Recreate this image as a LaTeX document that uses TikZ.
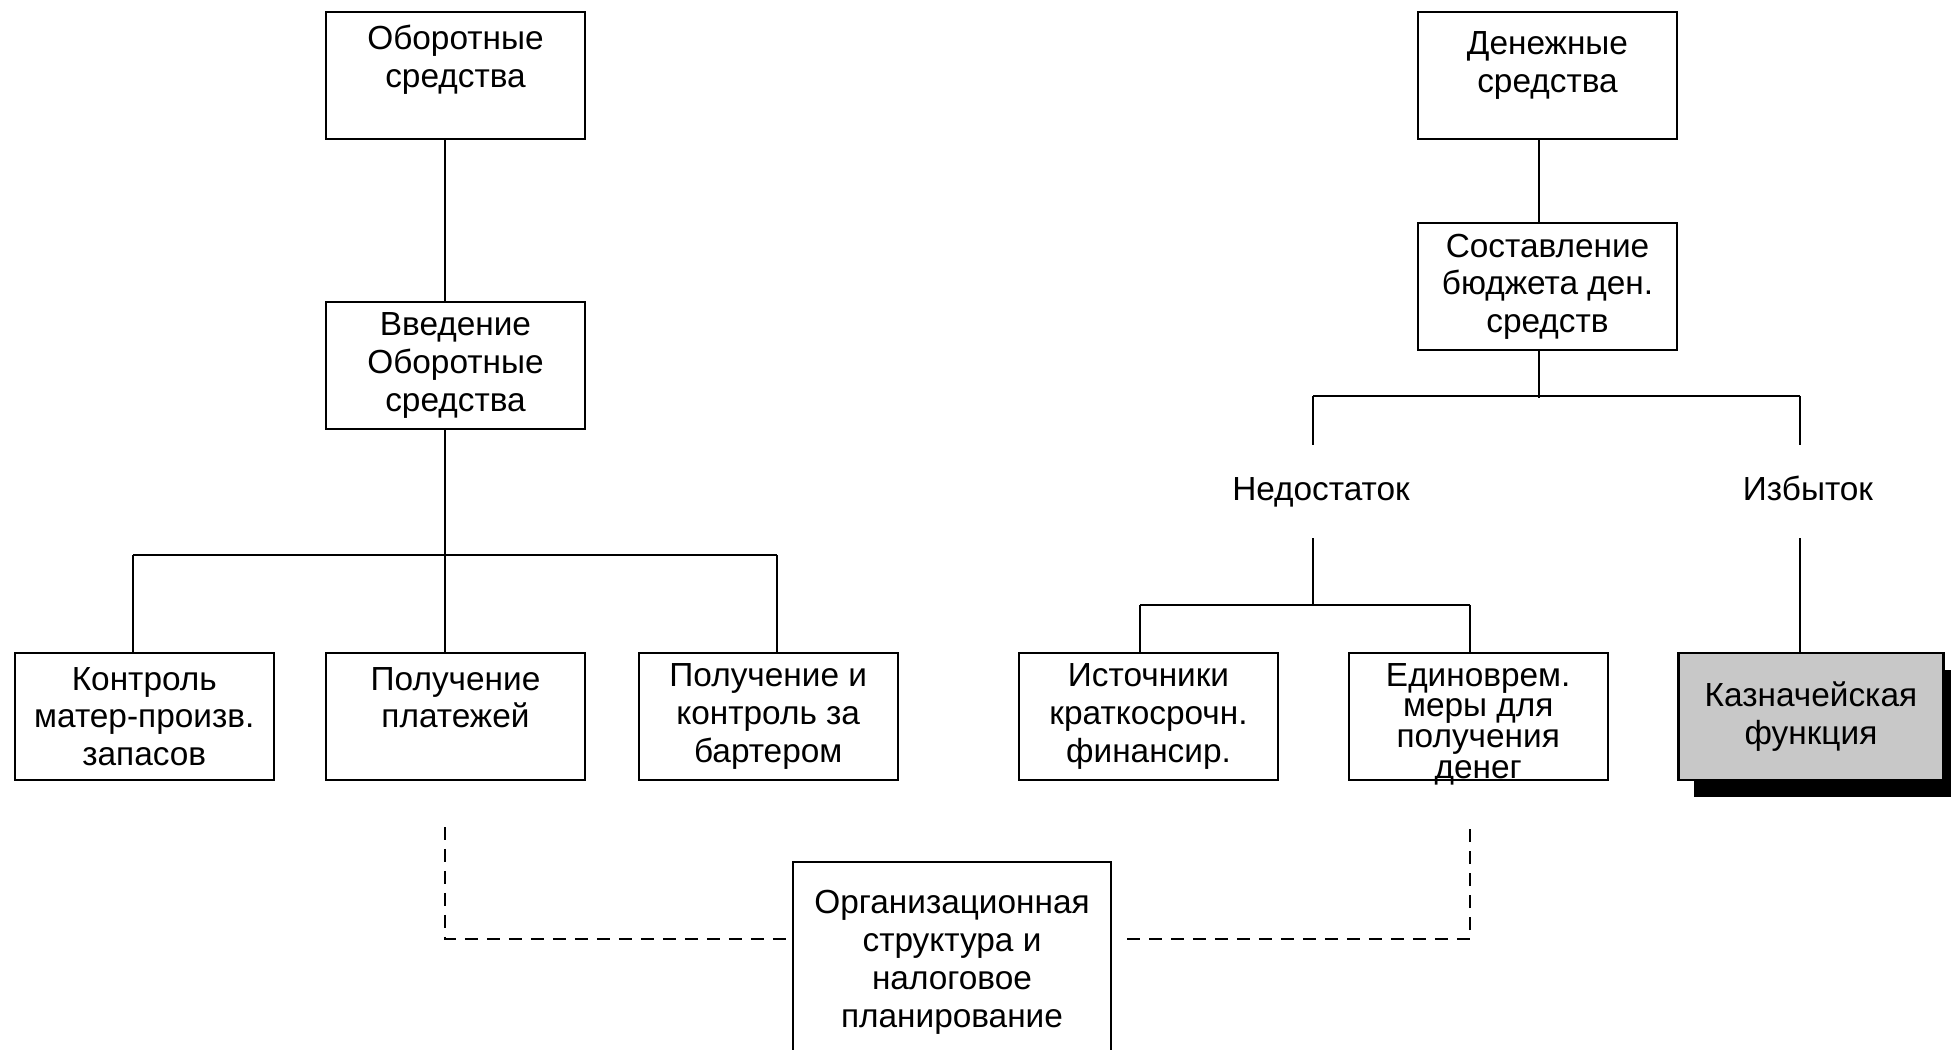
\documentclass[tikz,border=0pt]{standalone}
\usepackage{fontspec}
\setmainfont{Liberation Sans}
\usetikzlibrary{positioning, shadows}

\definecolor{treasurygray}{RGB}{200,200,200}

\begin{document}
\begin{tikzpicture}[x=0.02cm, y=-0.02cm,
    box/.style={draw, line width=1.3pt, align=center, minimum width=5.18cm, minimum height=2.54cm, inner sep=2pt, font=\fontsize{19}{21.5}\selectfont},
    branch/.style={align=center, inner sep=0pt, minimum height=1.86cm, text height=14pt, text depth=4pt, font=\fontsize{19}{21.5}\selectfont},
    link/.style={line width=1pt},
    dashlink/.style={line width=1.2pt, dash pattern=on 0.26cm off 0.18cm}]
    \useasboundingbox (0,0) rectangle (1951,1050);
    \clip (0,0) rectangle (1951,1050);

    \node (current) [box] at (455.5,75.5) {Оборотные\\средства\\~};
    \node (intro) [box, below=3.22cm of current] {Введение\\Оборотные\\средства};
    \node (payments) [box] at (455.5,716.5) {Получение\\платежей\\~};
    \node (stock) [box, left=1.0cm of payments] {Контроль\\матер-произв.\\запасов};
    \node (barter) [box, right=1.03cm of payments] {Получение и\\контроль за\\бартером};

    \node (cash) [box] at (1547.5,75.5) {Денежные\\средства\rule[-15pt]{0pt}{15pt}};
    \node (budget) [box, below=1.64cm of cash] {Составление\\бюджета ден.\\средств};
    \node (lack) [branch] at (1321,491.5) {Недостаток};
    \node (surplus) [branch] at (1808,491.5) {Избыток};
    \node (sources) [box] at (1148.5,716.5) {Источники\\краткосрочн.\\финансир.};
    \node (oneoff) [box, right=1.37cm of sources, inner ysep=0pt, font=\fontsize{19}{17.5}\selectfont] {\rule{0pt}{18pt}Единоврем.\\меры для\\получения\\\smash{денег}};
    \node (treasury) [box, right=1.37cm of oneoff, minimum width=5.3cm, fill=treasurygray,
        drop shadow={shadow xshift=0.32cm, shadow yshift=-0.34cm, fill=black, opacity=1}] {Казначейская\\функция};
    \node (orgtax) [box, anchor=north, minimum width=6.36cm, inner ysep=0.57cm] at (952,861) {Организационная\\структура и\\налоговое\\планирование};

    \coordinate (forkL) at (445,555);
    \coordinate (forkLa) at (133,555);
    \coordinate (forkLb) at (777,555);
    \draw[link] (current.south -| forkL) -- (intro.north -| forkL);
    \draw[link] (intro.south -| forkL) -- (payments.north -| forkL);
    \draw[link] (forkLa) -- (forkLb);
    \draw[link] (forkLa) -- (stock.north -| forkLa);
    \draw[link] (forkLb) -- (barter.north -| forkLb);

    \coordinate (forkR) at (1539,396);
    \coordinate (forkRa) at (1313,396);
    \coordinate (forkRb) at (1800,396);
    \draw[link] (cash.south -| forkR) -- (budget.north -| forkR);
    \draw[link] (budget.south -| forkR) -- ([yshift=-0.04cm]forkR);
    \draw[link] (forkRa) -- (forkRb);
    \draw[link] (forkRa) -- (lack.north -| forkRa);
    \draw[link] (forkRb) -- (surplus.north -| forkRb);

    \coordinate (forkS) at (1313,605);
    \coordinate (forkSa) at (1140,605);
    \coordinate (forkSb) at (1470,605);
    \draw[link] (lack.south -| forkS) -- (forkS);
    \draw[link] (forkSa) -- (forkSb);
    \draw[link] (forkSa) -- (sources.north -| forkSa);
    \draw[link] (forkSb) -- (oneoff.north -| forkSb);
    \draw[link] (surplus.south -| forkRb) -- (treasury.north -| forkRb);

    \coordinate (dashL) at (445,827);
    \coordinate (dashLc) at (445,939);
    \coordinate (dashR) at (1470,827);
    \coordinate (dashRc) at (1470,939);
    \coordinate (dashRs) at (1127,939);
    \draw[dashlink] (dashL) -- (dashLc) -- (dashLc -| orgtax.west);
    \draw[dashlink] (dashRs) -- (dashRc) -- (dashR);
\end{tikzpicture}
\end{document}
